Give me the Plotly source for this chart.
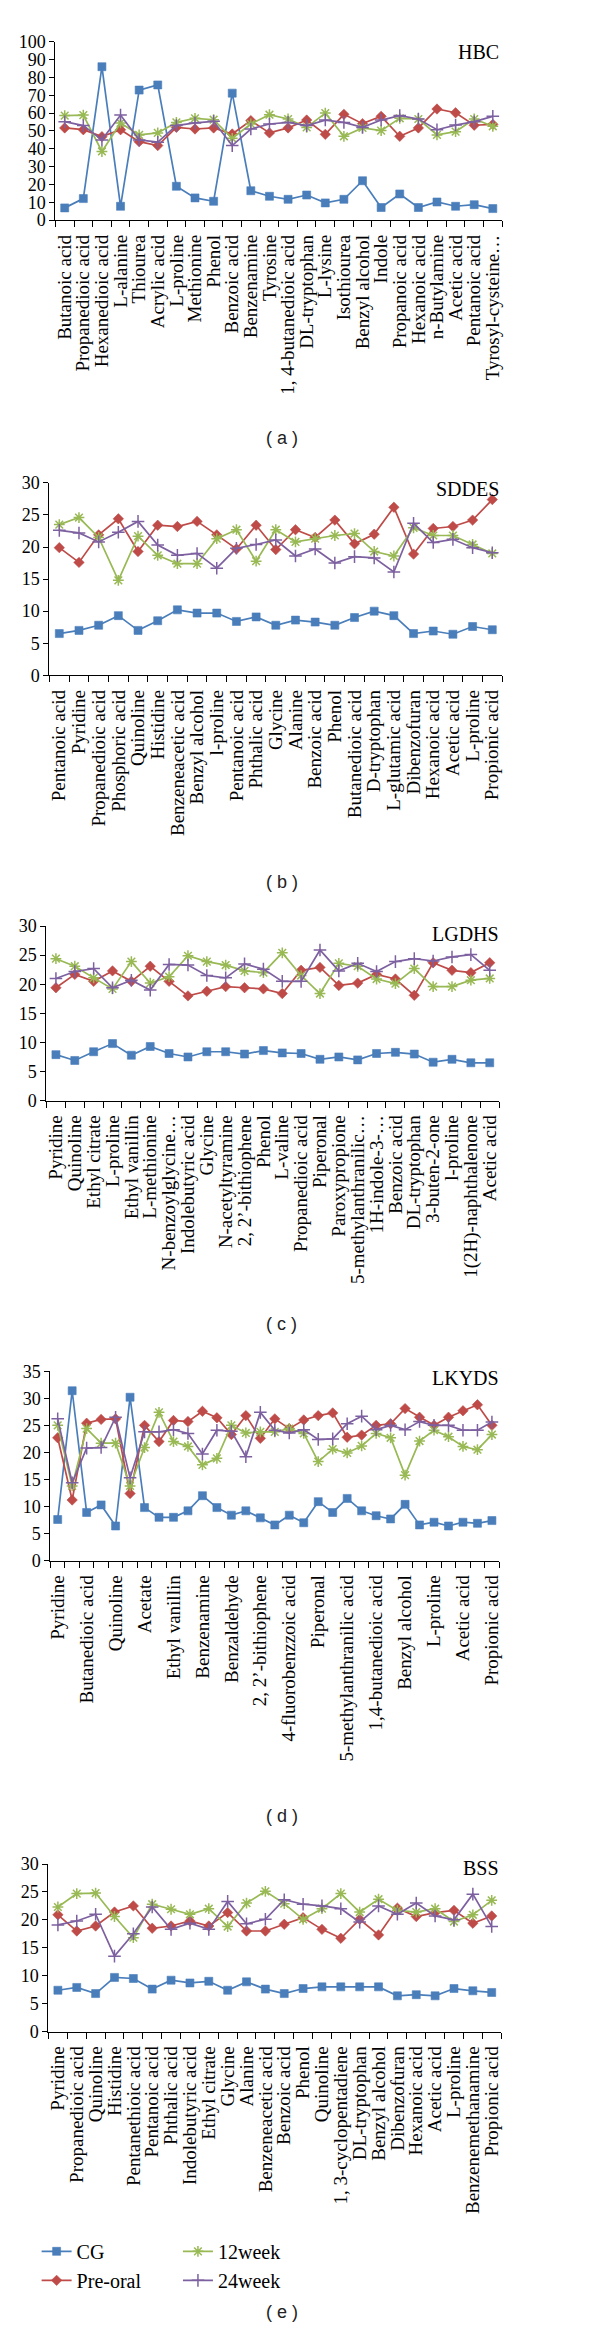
import plotly.graph_objects as go

# ---------------- data ----------------
series_names = ["CG", "Pre-oral", "12week", "24week"]

hbc_labels = ["Butanoic acid", "Propanedioic acid", "Hexanedioic acid", "L-alanine", "Thiourea",
              "Acrylic acid", "L-proline", "Methionine", "Phenol", "Benzoic acid", "Benzenamine",
              "Tyrosine", "1, 4-butanedioic acid", "DL-tryptophan", "L-lysine", "Isothiourea",
              "Benzyl alcohol", "Indole", "Propanoic acid", "Hexanoic acid", "n-Butylamine",
              "Acetic acid", "Pentanoic acid", "Tyrosyl-cysteine…"]
hbc_cg = [6.9, 12.1, 86, 7.8, 72.9, 75.8, 19, 12.5, 10.6, 71.2, 16.5, 13.4, 11.7, 14.1, 9.7, 11.7,
          22.1, 7.1, 14.7, 7.1, 10.2, 7.8, 8.7, 6.5]
hbc_pre = [51.7, 50.7, 46.8, 50.7, 44, 41.8, 52, 51.1, 51.7, 48.3, 55.8, 48.9, 51.7, 56.1, 48.1, 59.3,
           54.1, 58.2, 47, 51.7, 62.3, 60.2, 53.2, 53.7]
hbc_12w = [58.6, 58.9, 38.5, 54.5, 47.8, 48.9, 54.8, 57.1, 56.3, 45.9, 53.9, 59.1, 56.7, 52, 60, 47,
           51.7, 50.2, 57.1, 56.7, 47.8, 49.6, 56.7, 52.6]
hbc_24w = [55.2, 53, 45, 58.9, 45, 43.7, 53, 54.5, 55.4, 41.8, 51.1, 53.9, 54.8, 53, 56.1, 54.8,
           52, 56.1, 58.6, 56.7, 50.7, 53.3, 55.2, 58.2]

sddes_labels = ["Pentanoic acid", "Pyridine", "Propanedioic acid", "Phosphoric acid", "Quinoline",
                "Histidine", "Benzeneacetic acid", "Benzyl alcohol", "l-proline", "Pentanoic acid",
                "Phthalic acid", "Glycine", "Alanine", "Benzoic acid", "Phenol", "Butanedioic acid",
                "D-tryptophan", "L-glutamic acid", "Dibenzofuran", "Hexanoic acid", "Acetic acid",
                "L-proline", "Propionic acid"]
sddes_cg = [6.5, 7.0, 7.8, 9.3, 7.0, 8.5, 10.2, 9.7, 9.7, 8.4, 9.1, 7.8, 8.6, 8.3, 7.8, 9.0, 10.0,
            9.3, 6.5, 6.9, 6.4, 7.6, 7.1]
sddes_pre = [19.9, 17.6, 21.9, 24.4, 19.3, 23.4, 23.2, 24.0, 21.9, 19.7, 23.4, 19.6, 22.7, 21.5,
             24.2, 20.5, 22.0, 26.2, 18.9, 22.9, 23.2, 24.2, 27.4]
sddes_12w = [23.5, 24.6, 21.5, 14.8, 21.7, 18.7, 17.4, 17.4, 21.3, 22.7, 17.8, 22.7, 20.8, 21.3,
             21.8, 22.1, 19.3, 18.6, 23.0, 21.8, 21.8, 20.4, 19.0]
sddes_24w = [22.6, 22.2, 20.8, 22.3, 24.0, 20.3, 18.7, 19.0, 16.7, 19.8, 20.4, 21.1, 18.6, 19.7,
             17.5, 18.5, 18.3, 16.1, 23.7, 20.7, 21.2, 19.9, 19.1]

lgdhs_labels = ["Pyridine", "Quinoline", "Ethyl citrate", "L-proline", "Ethyl vanillin",
                "L-methionine", "N-benzoylglycine…", "Indolebutyric acid", "Glycine",
                "N-acetyltyramine", "2, 2’-bithiophene", "Phenol", "L-valine", "Propanedioic acid",
                "Piperonal", "Paroxypropione", "5-methylanthranilic…", "1H-indole-3-…",
                "Benzoic acid", "DL-tryptophan", "3-buten-2-one", "l-proline",
                "1(2H)-naphthalenone", "Acetic acid"]
lgdhs_cg = [7.9, 6.9, 8.4, 9.8, 7.8, 9.3, 8.1, 7.5, 8.4, 8.4, 8.0, 8.6, 8.2, 8.1, 7.1, 7.5, 7.0,
            8.1, 8.3, 8.0, 6.6, 7.1, 6.5, 6.5]
lgdhs_pre = [19.4, 21.7, 20.5, 22.3, 20.5, 23.1, 20.5, 18.0, 18.8, 19.6, 19.4, 19.2, 18.4, 22.4,
             22.9, 19.8, 20.2, 21.7, 20.9, 18.1, 23.7, 22.4, 22.0, 23.7]
lgdhs_12w = [24.4, 23.1, 21.1, 19.2, 23.9, 20.2, 21.3, 24.9, 23.9, 23.3, 22.3, 22.0, 25.4, 21.5,
             18.4, 23.6, 23.1, 20.9, 20.1, 22.7, 19.6, 19.6, 20.7, 21.0]
lgdhs_24w = [21.0, 22.2, 22.7, 19.4, 20.7, 19.0, 23.4, 23.3, 21.5, 21.1, 23.5, 22.6, 20.5, 20.5,
             25.9, 22.3, 23.6, 22.2, 23.9, 24.4, 24.0, 24.7, 25.1, 22.4]

# LKYDS: 31 compounds, only every other name is printed on the axis
lkyds_labels = ["Pyridine", "Butanedioic acid", "Quinoline", "Acetate", "Ethyl vanillin",
                "Benzenamine", "Benzaldehyde", "2, 2’-bithiophene", "4-fluorobenzzoic acid",
                "Piperonal", "5-methylanthranilic acid", "1,4-butanedioic acid", "Benzyl alcohol",
                "L-proline", "Acetic acid", "Propionic acid"]
lkyds_cg = [7.6, 31.4, 8.9, 10.3, 6.4, 30.2, 9.8, 8.0, 8.0, 9.2, 12.0, 9.8, 8.4, 9.2, 7.9, 6.6,
            8.4, 7.0, 10.9, 8.9, 11.5, 9.2, 8.3, 7.7, 10.4, 6.6, 7.1, 6.4, 7.1, 6.9, 7.4]
lkyds_pre = [22.7, 11.2, 25.4, 26.1, 26.2, 12.4, 25.0, 22.0, 25.9, 25.7, 27.6, 26.4, 23.3, 26.8,
             22.6, 26.2, 24.4, 26.0, 26.8, 27.3, 22.8, 23.2, 25.0, 25.3, 28.1, 26.5, 25.0, 26.5,
             27.7, 28.8, 25.0]
lkyds_12w = [25.0, 13.8, 24.4, 21.7, 21.7, 13.8, 20.9, 27.4, 22.0, 21.1, 17.7, 18.9, 25.0, 23.6,
             23.8, 23.8, 24.4, 23.5, 18.3, 20.6, 19.9, 21.2, 23.5, 22.7, 15.8, 22.1, 24.1, 22.9,
             21.1, 20.5, 23.3]
lkyds_24w = [26.2, 14.4, 20.8, 20.9, 26.5, 15.3, 23.8, 23.8, 24.2, 23.5, 19.7, 24.1, 23.9, 19.2,
             27.4, 24.1, 23.6, 24.2, 22.4, 22.5, 25.3, 26.7, 24.2, 25.0, 24.2, 25.7, 25.0, 25.0,
             24.1, 24.1, 25.6]

bss_labels = ["Pyridine", "Propanedioic acid", "Quinoline", "Histidine", "Pentanethioic acid",
              "Pentanoic acid", "Phthalic acid", "Indolebutyric acid", "Ethyl citrate", "Glycine",
              "Alanine", "Benzeneacetic acid", "Benzoic acid", "Phenol", "Quinoline",
              "1, 3-cyclopentadiene", "DL-tryptophan", "Benzyl alcohol", "Dibenzofuran",
              "Hexanoic acid", "Acetic acid", "L-proline", "Benzenemethanamine", "Propionic acid"]
bss_cg = [7.4, 7.9, 6.8, 9.7, 9.5, 7.6, 9.2, 8.7, 9.0, 7.4, 8.9, 7.6, 6.8, 7.7, 8.0, 8.0, 8.0,
          8.0, 6.4, 6.6, 6.4, 7.7, 7.3, 7.0]
bss_pre = [20.9, 18.0, 18.9, 21.4, 22.5, 18.5, 18.9, 19.8, 18.9, 21.3, 18.0, 18.0, 19.2, 20.4,
           18.3, 16.7, 20.1, 17.3, 22.1, 20.6, 21.3, 21.7, 19.4, 20.7]
bss_12w = [22.3, 24.7, 24.8, 20.6, 16.8, 22.8, 21.9, 21.0, 22.0, 18.8, 23.0, 25.1, 22.9, 20.1,
           22.0, 24.7, 21.4, 23.7, 21.7, 21.4, 22.0, 19.7, 20.9, 23.5]
bss_24w = [19.1, 19.8, 21.0, 13.5, 17.5, 22.3, 18.3, 19.4, 18.3, 23.3, 19.3, 20.1, 23.6, 22.8,
           22.5, 22.0, 19.6, 22.5, 21.0, 23.0, 20.7, 20.0, 24.6, 18.8]

# ---------------- styling ----------------
W, H = 600, 2338
SERIF = "Liberation Serif"
colors = ["#4A7EBB", "#BE4B48", "#98B954", "#7D60A0"]
symbols = ["square", "diamond", "asterisk-open", "cross-thin-open"]
msizes = [8, 8, 9, 9]

panels = [
    dict(name="HBC", tag="( a )", labels=hbc_labels, step=1, data=[hbc_cg, hbc_pre, hbc_12w, hbc_24w],
         ymax=100, dtick=10, box=(52, 504, 32, 212), title_y=42, tag_y=432),
    dict(name="SDDES", tag="( b )", labels=sddes_labels, step=1, data=[sddes_cg, sddes_pre, sddes_12w, sddes_24w],
         ymax=30, dtick=5, box=(46, 504, 477, 671), title_y=483, tag_y=880),
    dict(name="LGDHS", tag="( c )", labels=lgdhs_labels, step=1, data=[lgdhs_cg, lgdhs_pre, lgdhs_12w, lgdhs_24w],
         ymax=30, dtick=5, box=(43, 501, 924, 1100), title_y=932, tag_y=1325),
    dict(name="LKYDS", tag="( d )", labels=lkyds_labels, step=2, data=[lkyds_cg, lkyds_pre, lkyds_12w, lkyds_24w],
         ymax=35, dtick=5, box=(47, 501, 1373, 1564), title_y=1380, tag_y=1822),
    dict(name="BSS", tag="( e )", labels=bss_labels, step=1, data=[bss_cg, bss_pre, bss_12w, bss_24w],
         ymax=30, dtick=5, box=(45, 503, 1870, 2039), title_y=1874, tag_y=2322),
]

fig = go.Figure()
annotations = []
layout_axes = {}

for i, p in enumerate(panels):
    k = "" if i == 0 else str(i + 1)
    xa, ya = "x" + k, "y" + k
    n = len(p["data"][0])
    x0, x1, y0, y1 = p["box"]
    xs = list(range(n))
    last = (i == len(panels) - 1)
    for s in range(4):
        fig.add_trace(go.Scatter(
            x=xs, y=p["data"][s], xaxis=xa, yaxis=ya, mode="lines+markers",
            name=series_names[s], showlegend=last,
            legend="legend" if s < 2 else "legend2",
            line=dict(color=colors[s], width=1.7),
            marker=dict(symbol=symbols[s], size=msizes[s], color=colors[s],
                        line=dict(color=colors[s], width=1.5 if s >= 2 else 0.6)),
        ))
    layout_axes["xaxis" + k] = dict(
        domain=[x0 / W, x1 / W], anchor=ya, range=[-0.5, n - 0.5],
        tickmode="array", tickvals=xs[::p["step"]], ticktext=p["labels"],
        tickangle=-90, ticks="", ticklabelstandoff=6,
        tickfont=dict(family=SERIF, size=19, color="black"),
        showline=True, linecolor="black", linewidth=1.2, showgrid=False, zeroline=False,
        minor=dict(tick0=-0.5, dtick=1, ticks="outside", ticklen=6, tickcolor="black", tickwidth=1.2, showgrid=False),
        fixedrange=True,
    )
    layout_axes["yaxis" + k] = dict(
        domain=[1 - y1 / H, 1 - y0 / H], anchor=xa, range=[0, p["ymax"]],
        tickmode="linear", tick0=0, dtick=p["dtick"], ticks="outside", ticklen=5,
        tickcolor="black", tickwidth=1.2,
        tickfont=dict(family=SERIF, size=18, color="black"),
        showline=True, linecolor="black", linewidth=1.2, showgrid=False, zeroline=False,
        fixedrange=True,
    )
    annotations.append(dict(
        text=p["name"], xref="paper", yref="paper", x=503 / W, y=1 - p["title_y"] / H,
        xanchor="right", yanchor="middle", showarrow=False,
        font=dict(family=SERIF, size=20, color="black")))
    annotations.append(dict(
        text=p["tag"], xref="paper", yref="paper", x=281 / W, y=1 - p["tag_y"] / H,
        xanchor="center", yanchor="middle", showarrow=False,
        font=dict(family="Liberation Sans", size=18, color="#222222")))

fig.update_layout(
    width=W, height=H, autosize=False,
    margin=dict(l=0, r=0, t=0, b=0),
    paper_bgcolor="white", plot_bgcolor="white",
    annotations=annotations,
    legend=dict(x=33 / W, y=1 - 2241 / H, xanchor="left", yanchor="top",
                orientation="v", font=dict(family=SERIF, size=20, color="black"),
                bgcolor="rgba(0,0,0,0)", tracegroupgap=0, itemwidth=30),
    legend2=dict(x=176 / W, y=1 - 2241 / H, xanchor="left", yanchor="top",
                 orientation="v", font=dict(family=SERIF, size=20, color="black"),
                 bgcolor="rgba(0,0,0,0)", tracegroupgap=0, itemwidth=30),
    **layout_axes,
)

fig.write_html("out.html", config={"displayModeBar": False},
               post_script="document.body.style.margin='0';document.body.style.padding='0';")
